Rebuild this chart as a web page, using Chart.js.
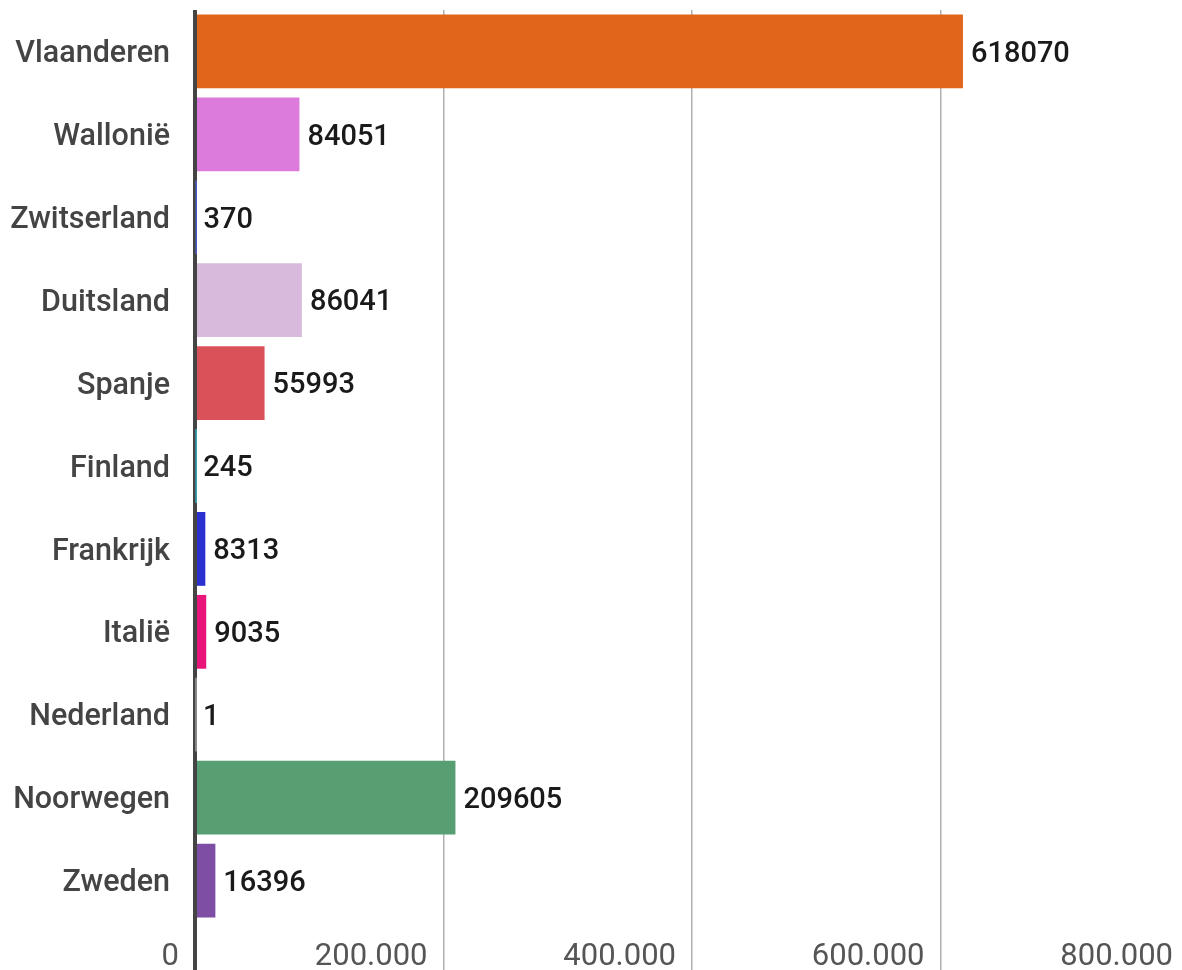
<!DOCTYPE html>
<html>
<head>
<meta charset="utf-8">
<script src="https://cdn.jsdelivr.net/npm/chart.js@4"></script>
<style>
  html, body { margin: 0; padding: 0; background: #fff; overflow: hidden; }
  #wrap { width: 1182px; height: 970px; overflow: hidden; }
</style>
</head>
<body>
<div id="wrap"><canvas id="chart" width="1200" height="970"></canvas></div>
<script>
// data
const regions = ['Vlaanderen', 'Wallonië', 'Zwitserland', 'Duitsland', 'Spanje', 'Finland',
  'Frankrijk', 'Italië', 'Nederland', 'Noorwegen', 'Zweden'];
const values = [618070, 84051, 370, 86041, 55993, 245, 8313, 9035, 1, 209605, 16396];
const barColors = ['#e0661c', '#dd7bdd', '#4a5bc4', '#d8bbdc', '#d9525a', '#3aa0b0',
  '#2a2fcf', '#e9157a', '#888888', '#579e72', '#7d4ea3'];
const xTicks = [0, 200000, 400000, 600000, 800000];

function dots(v) {
  return String(v).replace(/\B(?=(\d{3})+(?!\d))/g, '.');
}

// draws the value right next to each bar
const valueLabels = {
  id: 'valueLabels',
  afterDatasetsDraw(chart) {
    const c = chart.ctx;
    const meta = chart.getDatasetMeta(0);
    c.save();
    c.font = '500 29px Roboto';
    c.fillStyle = '#1a1a1a';
    c.textAlign = 'left';
    c.textBaseline = 'middle';
    meta.data.forEach((bar, i) => {
      c.fillText(String(values[i]), bar.x + 8, bar.y + 3);
    });
    c.restore();
  }
};

Chart.defaults.font.family = 'Roboto';

let ctx = document.getElementById('chart');
let chart = new Chart(ctx, {
  type: 'bar',
  data: {
    labels: regions,
    datasets: [{
      data: values,
      backgroundColor: barColors,
      barPercentage: 0.89,
      categoryPercentage: 1
    }]
  },
  options: {
    indexAxis: 'y',
    responsive: false,
    animation: false,
    devicePixelRatio: 1,
    layout: { padding: { top: 10, right: 11, bottom: 0, left: 0 } },
    plugins: {
      legend: { display: false },
      tooltip: { enabled: false }
    },
    scales: {
      x: {
        min: 0,
        max: 800000,
        afterBuildTicks: (scale) => { scale.ticks = xTicks.map(v => ({ value: v })); },
        afterFit: (scale) => {
          scale.height = 48;
          scale.paddingLeft = 0;
          scale.paddingRight = 0;
        },
        border: { display: false },
        grid: {
          drawTicks: true,
          tickLength: 48,
          color: (c) => c.tick && c.tick.value === 0 ? '#444444' : '#b0b0b0',
          lineWidth: (c) => c.tick && c.tick.value === 0 ? 4 : 1.5
        },
        ticks: {
          align: 'end',
          labelOffset: -16,
          padding: -31,
          maxRotation: 0,
          autoSkip: false,
          color: '#555555',
          font: { size: 31 },
          callback: (v) => dots(v)
        }
      },
      y: {
        afterFit: (scale) => {
          scale.width = 195;
          scale.paddingTop = 0;
          scale.paddingBottom = 0;
        },
        border: { display: false },
        grid: { display: false, drawTicks: false },
        ticks: {
          padding: 25,
          labelOffset: 3,
          color: '#444444',
          font: { size: 30.5, weight: '500' }
        }
      }
    }
  },
  plugins: [valueLabels]
});
</script>
</body>
</html>
